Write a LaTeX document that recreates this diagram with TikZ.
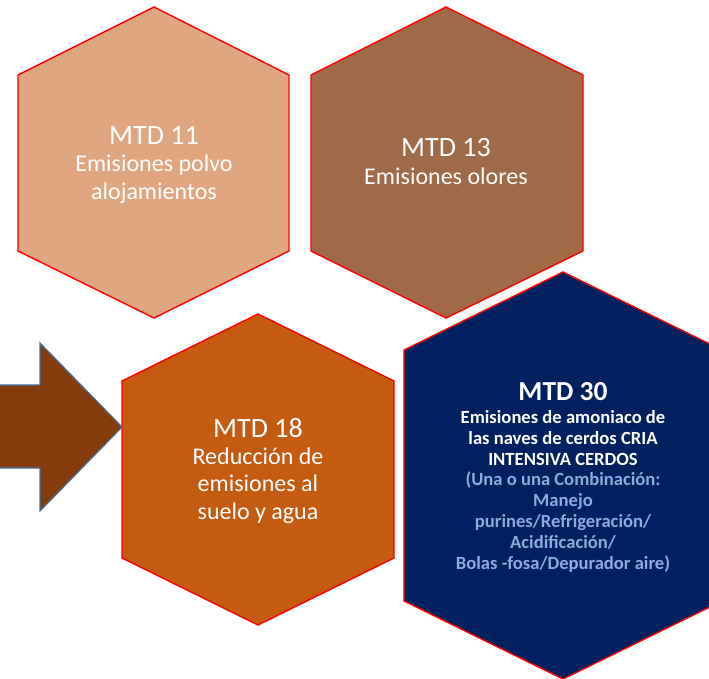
\documentclass[tikz,border=0pt]{standalone}
\usepackage{fontspec}
\setmainfont{Carlito}
\definecolor{hexA}{HTML}{E0A67F}
\definecolor{hexB}{HTML}{A06A47}
\definecolor{hexC}{HTML}{C55A11}
\definecolor{hexD}{HTML}{002060}
\definecolor{arrowfill}{HTML}{843C0C}
\definecolor{arrowline}{HTML}{41719C}
\definecolor{lightblue}{HTML}{8FAADC}
\begin{document}
\begin{tikzpicture}[x=1pt,y=-1pt,
  hexborder/.style={draw=red,line width=1.4pt,line join=miter},
  bodytext/.style={anchor=base,align=center,text=white,font=\fontsize{24}{27.3}\selectfont},
  boldtext/.style={anchor=base,align=center,text=white,font=\bfseries\fontsize{18.6}{20.8}\selectfont}]
\useasboundingbox (0,0) rectangle (709,678);
\begin{scope}
\clip (0,0) rectangle (709,678);
% hexagons
\draw[hexborder,fill=hexA] (154,7) -- (289,75) -- (289,251) -- (154,318) -- (18,251) -- (18,75) -- cycle;
\draw[hexborder,fill=hexB] (446,7) -- (583,75) -- (583,251) -- (446,318) -- (311,251) -- (311,75) -- cycle;
\draw[hexborder,fill=hexC] (258,314) -- (394,381) -- (394,558) -- (258,625) -- (122,558) -- (122,381) -- cycle;
\draw[hexborder,fill=hexD] (563,272) -- (722,350) -- (722,601) -- (563,679) -- (404,601) -- (404,350) -- cycle;
% arrow
\draw[draw=arrowline,line width=1.2pt,fill=arrowfill,line join=miter] (-5,385) -- (40,385) -- (40,343) -- (122,427) -- (40,511) -- (40,468) -- (-5,468) -- cycle;
\end{scope}
% texts (anchor base = baseline of last line)
\node[bodytext] (t11) at (154,199) {{\fontsize{28}{27.3}\selectfont MTD 11}\\Emisiones polvo\\alojamientos};
\node[bodytext] (t13) at (446,184) {{\fontsize{28}{27.3}\selectfont MTD 13}\\Emisiones olores};
\node[bodytext] (t18) at (258,519) {{\fontsize{28}{27.3}\selectfont MTD 18}\\Reducción de\\emisiones al\\suelo y agua};
\node[boldtext] (t30) at (563,569) {{\fontsize{27.5}{20.8}\selectfont MTD 30}\\[2pt]Emisiones de amoniaco de\\las naves de cerdos CRIA\\INTENSIVA CERDOS\\\textcolor{lightblue}{(Una o una Combinación:}\\\textcolor{lightblue}{Manejo}\\\textcolor{lightblue}{purines/Refrigeración/}\\\textcolor{lightblue}{Acidificación/}\\\textcolor{lightblue}{Bolas -fosa/Depurador aire)}};
\end{tikzpicture}
\end{document}
